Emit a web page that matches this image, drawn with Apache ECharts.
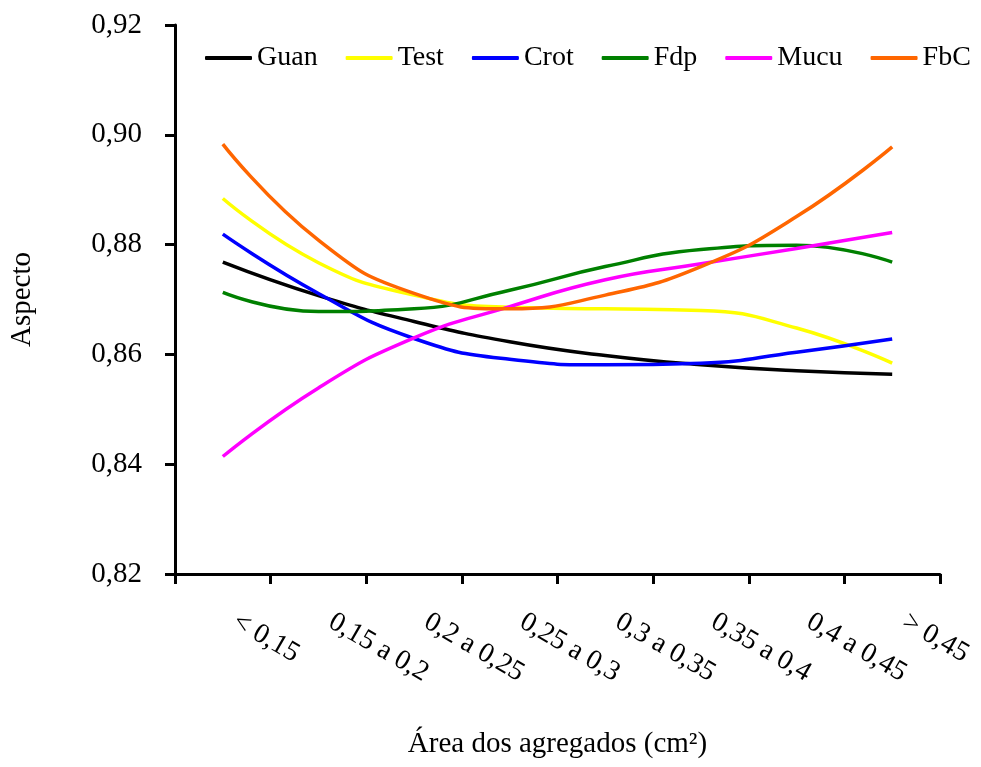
<!DOCTYPE html>
<html>
<head>
<meta charset="utf-8">
<script src="https://cdn.jsdelivr.net/npm/echarts@6/dist/echarts.min.js"></script>
<style>html,body{margin:0;padding:0;background:#fff;}#c{width:981px;height:767px;}</style>
</head>
<body>
<div id="c"></div>
<script>
const categories = ['< 0,15', '0,15 a 0,2', '0,2 a 0,25', '0,25 a 0,3', '0,3 a 0,35', '0,35 a 0,4', '0,4 a 0,45', '> 0,45'];
const yTicks = [0.82, 0.84, 0.86, 0.88, 0.90, 0.92];
const seriesNames = ['Guan', 'Test', 'Crot', 'Fdp', 'Mucu', 'FbC'];
const guan = [0.8768, 0.8707, 0.8660, 0.8623, 0.8598, 0.8581, 0.8570, 0.8564];
const test = [0.8884, 0.8767, 0.8708, 0.8686, 0.8683, 0.8680, 0.8648, 0.8584];
const crot = [0.8819, 0.8711, 0.8629, 0.8591, 0.8581, 0.8584, 0.8604, 0.8628];
const fdp  = [0.8713, 0.8678, 0.8683, 0.8717, 0.8760, 0.8791, 0.8799, 0.8768];
const mucu = [0.8414, 0.8539, 0.8630, 0.8687, 0.8736, 0.8765, 0.8793, 0.8822];
const fbc  = [0.8983, 0.8808, 0.8711, 0.8683, 0.8708, 0.8760, 0.8851, 0.8978];

const colors = ['#000000', '#FFFF00', '#0000FF', '#008000', '#FF00FF', '#FF6600'];
const values = [guan, test, crot, fdp, mucu, fbc];
const FONT = '"Liberation Serif", "Times New Roman", serif';

const chart = echarts.init(document.getElementById('c'), null, {renderer: 'canvas'});
chart.setOption({
  animation: false,
  backgroundColor: '#ffffff',
  textStyle: {fontFamily: FONT, color: '#000'},
  grid: {left: 175, right: 41, top: 25, bottom: 193, containLabel: false},
  legend: {
    left: 200, top: 39,
    icon: 'roundRect',
    itemWidth: 47, itemHeight: 4, itemGap: 28,
    textStyle: {fontFamily: FONT, fontSize: 28, color: '#000'},
    data: seriesNames
  },
  xAxis: {
    type: 'category',
    data: categories,
    boundaryGap: true,
    name: 'Área dos agregados (cm²)',
    nameLocation: 'middle',
    nameGap: 156,
    nameTextStyle: {fontFamily: FONT, fontSize: 29, color: '#000'},
    axisLine: {lineStyle: {color: '#000', width: 3}},
    axisTick: {show: true, inside: false, length: 10, alignWithLabel: false, interval: 0, lineStyle: {color: '#000', width: 3}},
    axisLabel: {interval: 0, rotate: -30, margin: 39, padding: [0, 0, 0, 14], fontFamily: FONT, fontSize: 28, color: '#000'},
    splitLine: {show: false}
  },
  yAxis: {
    type: 'value',
    min: yTicks[0], max: yTicks[yTicks.length - 1], interval: 0.02,
    name: 'Aspecto',
    nameLocation: 'middle',
    nameGap: 138,
    nameTextStyle: {fontFamily: FONT, fontSize: 29, color: '#000'},
    axisLine: {show: true, lineStyle: {color: '#000', width: 3}},
    axisTick: {show: true, inside: false, length: 10, lineStyle: {color: '#000', width: 3}},
    axisLabel: {margin: 33, fontFamily: FONT, fontSize: 29, color: '#000',
      formatter: v => v.toFixed(2).replace('.', ',')},
    splitLine: {show: false}
  },
  series: seriesNames.map((n, i) => ({
    name: n,
    type: 'line',
    data: values[i],
    smooth: 0.5,
    symbol: 'none',
    lineStyle: {color: colors[i], width: 3.5},
    itemStyle: {color: colors[i]}
  }))
});
</script>
</body>
</html>
